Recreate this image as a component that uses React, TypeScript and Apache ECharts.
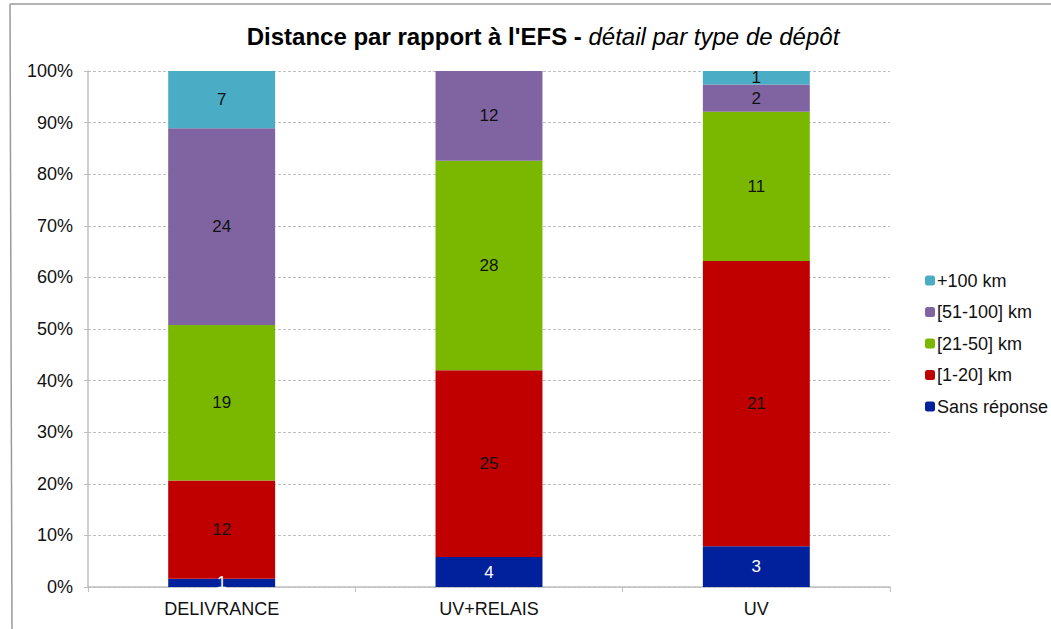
import React, { useEffect, useRef } from "react";
import * as echarts from "echarts";

const categories = ["DELIVRANCE", "UV+RELAIS", "UV"];
const seriesNames = ["Sans réponse", "[1-20] km", "[21-50] km", "[51-100] km", "+100 km"];
const sansReponse = [1, 4, 3];
const km1to20 = [12, 25, 21];
const km21to50 = [19, 28, 11];
const km51to100 = [24, 12, 2];
const km100plus = [7, 0, 1];
const yTicks = [0, 10, 20, 30, 40, 50, 60, 70, 80, 90, 100];

const colors = ["#00209c", "#c00000", "#7ab800", "#8064a2", "#4bacc6"];
const labelColors = ["#ffffff", "#111111", "#111111", "#111111", "#111111"];
const FONT = "Liberation Sans, Arial, sans-serif";

export default function App() {
  const ref = useRef<HTMLDivElement>(null);
  useEffect(() => {
    if (!ref.current) return;
    const chart = echarts.init(ref.current, undefined, { renderer: "svg" });
    const counts = [sansReponse, km1to20, km21to50, km51to100, km100plus];
    const totals = categories.map((_, i) => counts.reduce((s, arr) => s + arr[i], 0));
    const series = counts.map((arr, k) => ({
      name: seriesNames[k],
      type: "bar",
      stack: "total",
      barWidth: "40%",
      itemStyle: { color: colors[k] },
      label: {
        show: true,
        position: "inside",
        color: labelColors[k],
        fontFamily: FONT,
        fontSize: 17,
        formatter: (p: any) => (arr[p.dataIndex] > 0 ? String(arr[p.dataIndex]) : ""),
      },
      data: arr.map((v, i) => (v / totals[i]) * 100),
    }));
    chart.setOption({
      animation: false,
      backgroundColor: "#ffffff",
      title: {
        left: 538,
        top: 19,
        textAlign: "center",
        text: "{b|Distance par rapport à l'EFS - }{i|détail par type de dépôt}",
        textStyle: {
          rich: {
            b: { fontFamily: FONT, fontWeight: "bold", fontSize: 24, color: "#000" },
            i: { fontFamily: FONT, fontStyle: "italic", fontWeight: "normal", fontSize: 24, color: "#000" },
          },
        },
      },
      legend: {
        orient: "vertical",
        left: 920,
        top: 266,
        itemWidth: 10,
        itemHeight: 10,
        itemGap: 12.5,
        data: [...seriesNames].reverse(),
        textStyle: { fontFamily: FONT, fontSize: 18, lineHeight: 19, color: "#111", padding: [0, 0, 0, -3] },
      },
      grid: { left: 88, right: 161, top: 71, bottom: 42 },
      xAxis: {
        type: "category",
        data: categories,
        axisLine: { lineStyle: { color: "#bfbfbf", width: 1.5 } },
        axisTick: { show: true, length: 5, lineStyle: { color: "#bfbfbf" } },
        axisLabel: { fontFamily: FONT, fontSize: 18, color: "#111", margin: 13 },
      },
      yAxis: {
        type: "value",
        min: 0,
        max: 100,
        interval: 10,
        axisLine: { show: true, lineStyle: { color: "#bfbfbf", width: 1.5 } },
        axisTick: { show: true, length: 4, lineStyle: { color: "#bfbfbf" } },
        splitLine: { lineStyle: { color: "#bfbfbf", type: [3, 2] } },
        axisLabel: {
          fontFamily: FONT,
          fontSize: 18,
          color: "#111",
          margin: 15,
          formatter: (v: number) => (yTicks.includes(v) ? v + "%" : ""),
        },
      },
      graphic: [
        { type: "line", shape: { x1: 10, y1: 4, x2: 1051, y2: 4 }, style: { stroke: "#9a9a9a", lineWidth: 1.5 } },
        { type: "line", shape: { x1: 10, y1: 4, x2: 12, y2: 629 }, style: { stroke: "#9a9a9a", lineWidth: 1.5 } },
      ],
      series,
    });
    return () => chart.dispose();
  }, []);
  return <div ref={ref} style={{ width: 1051, height: 629, position: "absolute", left: 0, top: 0 }} />;
}
